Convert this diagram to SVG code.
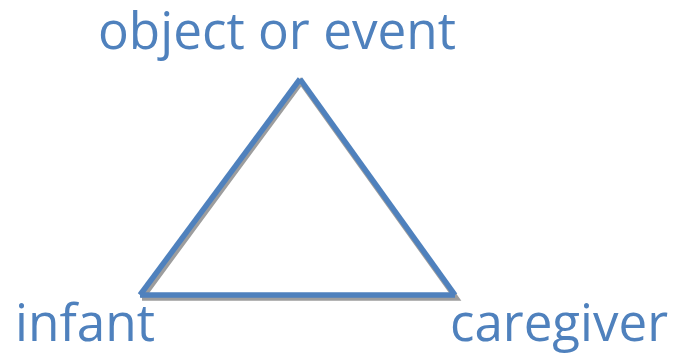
<svg xmlns="http://www.w3.org/2000/svg" width="674" height="354" viewBox="0 0 674 354">
<style>
.lbl{font-family:"Open Sans","Noto Sans",sans-serif;font-size:51px;fill:#4F81BD}
.edge{stroke:#4F81BD;stroke-width:5.5;fill:none;stroke-linecap:butt}
.shadow{stroke:#8C8C8C;stroke-width:5.5;fill:none;opacity:0.85}
</style>
<rect width="674" height="354" fill="#fff"/>
<g id="connectors">
<polyline class="shadow" points="142,298 301,82 456,298 142,298"/>
<line class="edge" x1="140" y1="295" x2="300" y2="79"/>
<line class="edge" x1="300" y1="79" x2="455" y2="295"/>
<line class="edge" x1="140" y1="295" x2="455" y2="295"/>
</g>
<g id="object"><text class="lbl" x="277" y="49" text-anchor="middle" textLength="358" lengthAdjust="spacingAndGlyphs">object or event</text></g>
<g id="infant"><text class="lbl" x="15" y="341" textLength="140" lengthAdjust="spacingAndGlyphs">infant</text></g>
<g id="caregiver"><text class="lbl" x="450" y="341" textLength="218" lengthAdjust="spacingAndGlyphs">caregiver</text></g>
</svg>
